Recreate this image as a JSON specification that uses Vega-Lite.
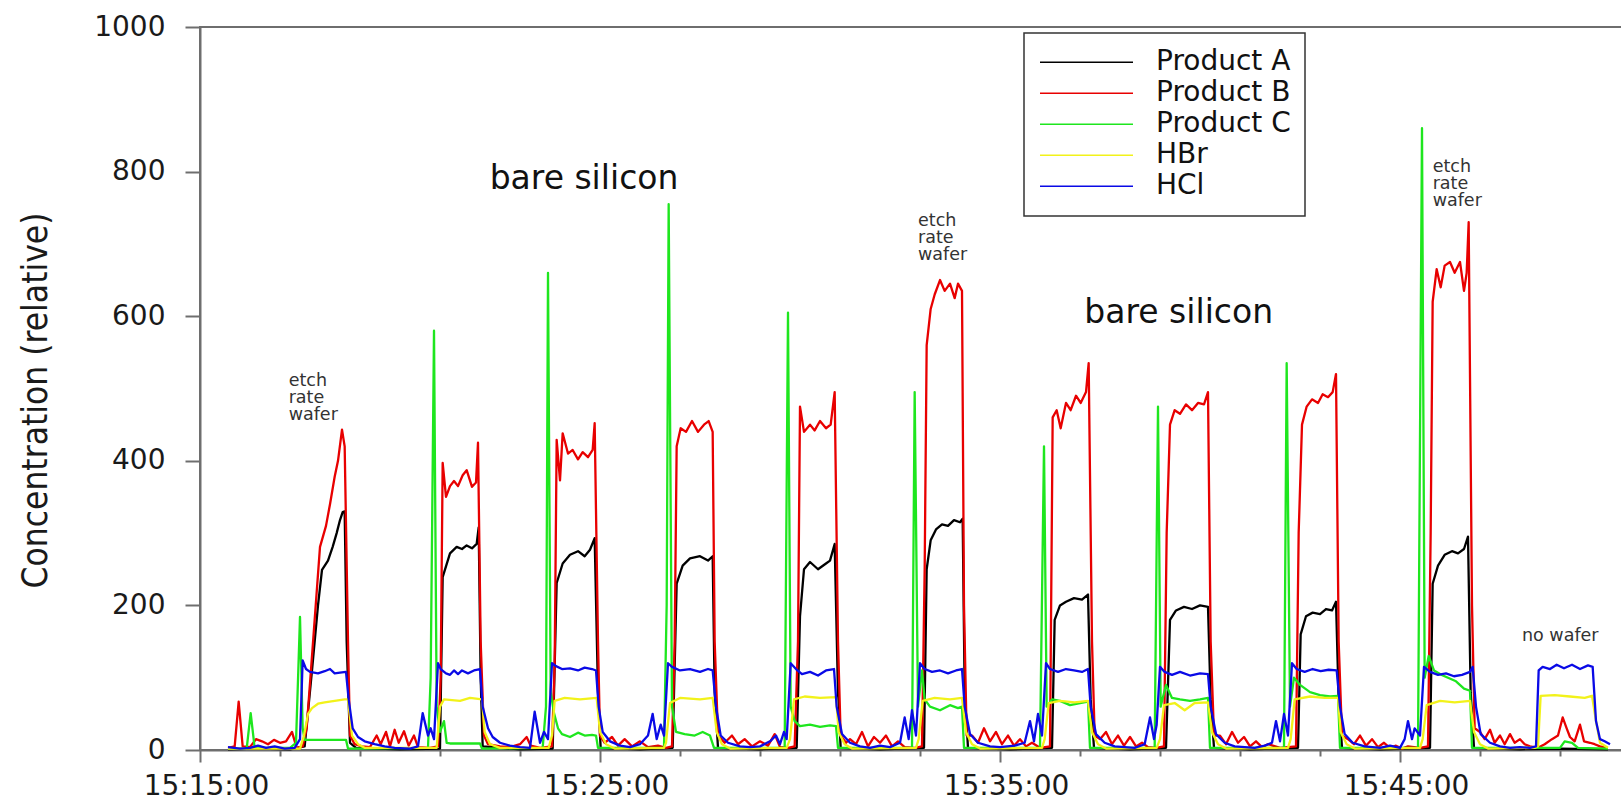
{
  "$schema": "https://vega.github.io/schema/vega-lite/v6.json",
  "width": 1422,
  "height": 723,
  "autosize": "none",
  "padding": {"left": 200, "top": 27, "right": 0, "bottom": 50},
  "background": "white",
  "encoding": {
    "x": {
      "field": "t", "type": "temporal",
      "scale": {"domain": [{"year": 1900, "month": 1, "date": 1, "hours": 15, "minutes": 15, "seconds": 0}, {"year": 1900, "month": 1, "date": 1, "hours": 15, "minutes": 50, "seconds": 33}], "nice": false},
      "axis": {
        "title": null,
        "values": [
          {"year": 1900, "month": 1, "date": 1, "hours": 15, "minutes": 15},
          {"year": 1900, "month": 1, "date": 1, "hours": 15, "minutes": 17},
          {"year": 1900, "month": 1, "date": 1, "hours": 15, "minutes": 19},
          {"year": 1900, "month": 1, "date": 1, "hours": 15, "minutes": 21},
          {"year": 1900, "month": 1, "date": 1, "hours": 15, "minutes": 23},
          {"year": 1900, "month": 1, "date": 1, "hours": 15, "minutes": 25},
          {"year": 1900, "month": 1, "date": 1, "hours": 15, "minutes": 27},
          {"year": 1900, "month": 1, "date": 1, "hours": 15, "minutes": 29},
          {"year": 1900, "month": 1, "date": 1, "hours": 15, "minutes": 31},
          {"year": 1900, "month": 1, "date": 1, "hours": 15, "minutes": 33},
          {"year": 1900, "month": 1, "date": 1, "hours": 15, "minutes": 35},
          {"year": 1900, "month": 1, "date": 1, "hours": 15, "minutes": 37},
          {"year": 1900, "month": 1, "date": 1, "hours": 15, "minutes": 39},
          {"year": 1900, "month": 1, "date": 1, "hours": 15, "minutes": 41},
          {"year": 1900, "month": 1, "date": 1, "hours": 15, "minutes": 43},
          {"year": 1900, "month": 1, "date": 1, "hours": 15, "minutes": 45},
          {"year": 1900, "month": 1, "date": 1, "hours": 15, "minutes": 47},
          {"year": 1900, "month": 1, "date": 1, "hours": 15, "minutes": 49}
        ],
        "labelExpr": "minutes(datum.value) % 10 == 5 ? timeFormat(datum.value, '%H:%M:%S') : ''",
        "tickSize": {"condition": {"test": "minutes(datum.value) % 10 == 5", "value": 12}, "value": 6},
        "labelPadding": 10,
        "labelOffset": 6,
        "labelOverlap": false,
        "labelFlush": false
      }
    },
    "y": {
      "field": "v", "type": "quantitative",
      "scale": {"domain": [0, 1000], "nice": false},
      "axis": {
        "values": [0, 200, 400, 600, 800, 1000],
        "format": "d",
        "title": "Concentration (relative)",
        "titleFont": "DejaVu Sans Condensed, DejaVu Sans, sans-serif",
        "titleFontSize": 35,
        "titleFontWeight": "normal",
        "titleColor": "#1a1a1a",
        "titleX": -165,
        "titleY": 373,
        "titleAngle": -90,
        "titleAlign": "center",
        "titleBaseline": "middle",
        "tickSize": 15,
        "labelPadding": 20
      }
    }
  },
  "layer": [
    {
      "data": {"values": [
        {"t":"15:15:42","v":1},{"t":"15:16:30","v":2},{"t":"15:17:15","v":1},{"t":"15:17:37","v":5},{"t":"15:17:48","v":110},{"t":"15:17:57","v":200},{"t":"15:18:03","v":249},{"t":"15:18:12","v":262},{"t":"15:18:19","v":281},{"t":"15:18:25","v":300},{"t":"15:18:30","v":318},{"t":"15:18:34","v":329},{"t":"15:18:37","v":330},{"t":"15:18:40","v":150},{"t":"15:18:45","v":10},{"t":"15:18:54","v":3},{"t":"15:20:00","v":1},
        {"t":"15:21:00","v":2},{"t":"15:21:04","v":239},{"t":"15:21:15","v":272},{"t":"15:21:25","v":281},{"t":"15:21:33","v":278},{"t":"15:21:40","v":283},{"t":"15:21:48","v":279},{"t":"15:21:55","v":285},{"t":"15:21:58","v":308},{"t":"15:22:01","v":100},{"t":"15:22:04","v":5},
        {"t":"15:23:00","v":1},{"t":"15:23:49","v":2},{"t":"15:23:55","v":231},{"t":"15:24:04","v":258},{"t":"15:24:15","v":270},{"t":"15:24:27","v":275},{"t":"15:24:37","v":268},{"t":"15:24:45","v":277},{"t":"15:24:52","v":293},{"t":"15:24:57","v":80},{"t":"15:25:01","v":3},
        {"t":"15:26:00","v":1},{"t":"15:26:49","v":3},{"t":"15:26:55","v":230},{"t":"15:27:04","v":255},{"t":"15:27:15","v":265},{"t":"15:27:30","v":268},{"t":"15:27:42","v":262},{"t":"15:27:49","v":268},{"t":"15:27:52","v":80},{"t":"15:27:57","v":3},
        {"t":"15:29:00","v":1},{"t":"15:29:55","v":3},{"t":"15:30:00","v":185},{"t":"15:30:06","v":250},{"t":"15:30:15","v":260},{"t":"15:30:27","v":250},{"t":"15:30:39","v":258},{"t":"15:30:45","v":262},{"t":"15:30:52","v":285},{"t":"15:30:57","v":80},{"t":"15:31:01","v":3},
        {"t":"15:32:00","v":1},{"t":"15:33:06","v":3},{"t":"15:33:10","v":250},{"t":"15:33:16","v":290},{"t":"15:33:24","v":305},{"t":"15:33:33","v":312},{"t":"15:33:42","v":310},{"t":"15:33:51","v":318},{"t":"15:34:00","v":315},{"t":"15:34:04","v":320},{"t":"15:34:07","v":80},{"t":"15:34:12","v":3},
        {"t":"15:35:15","v":1},{"t":"15:36:18","v":3},{"t":"15:36:22","v":180},{"t":"15:36:30","v":200},{"t":"15:36:39","v":205},{"t":"15:36:51","v":210},{"t":"15:37:03","v":208},{"t":"15:37:12","v":215},{"t":"15:37:16","v":70},{"t":"15:37:21","v":3},
        {"t":"15:38:15","v":1},{"t":"15:39:09","v":3},{"t":"15:39:15","v":180},{"t":"15:39:24","v":193},{"t":"15:39:36","v":198},{"t":"15:39:48","v":195},{"t":"15:40:00","v":200},{"t":"15:40:12","v":198},{"t":"15:40:16","v":70},{"t":"15:40:21","v":3},
        {"t":"15:41:15","v":1},{"t":"15:42:27","v":3},{"t":"15:42:31","v":160},{"t":"15:42:39","v":185},{"t":"15:42:49","v":190},{"t":"15:43:00","v":188},{"t":"15:43:09","v":195},{"t":"15:43:18","v":193},{"t":"15:43:24","v":205},{"t":"15:43:28","v":70},{"t":"15:43:33","v":3},
        {"t":"15:44:30","v":1},{"t":"15:45:45","v":3},{"t":"15:45:49","v":230},{"t":"15:45:57","v":255},{"t":"15:46:07","v":270},{"t":"15:46:18","v":275},{"t":"15:46:27","v":272},{"t":"15:46:36","v":278},{"t":"15:46:42","v":295},{"t":"15:46:46","v":80},{"t":"15:46:51","v":3},
        {"t":"15:48:00","v":1},{"t":"15:49:00","v":2},{"t":"15:50:12","v":1}
      ], "format": {"parse": {"t": "date:'%H:%M:%S'"}}},
      "mark": {"type": "line", "strokeWidth": 2.3, "strokeJoin": "round"},
      "encoding": {
        "color": {
          "datum": "Product A", "type": "nominal",
          "scale": {"domain": ["Product A", "Product B", "Product C", "HBr", "HCl"], "range": ["#000000", "#e80000", "#1ee61e", "#f2f21a", "#0a0ae6"]},
          "legend": {
            "title": null, "orient": "none", "legendX": 824, "legendY": 6, "direction": "vertical",
            "symbolType": "stroke", "symbolSize": 8649, "symbolStrokeWidth": 1.6,
            "clipHeight": 30.5, "rowPadding": 0, "padding": 14, "symbolOffset": 1, "labelOffset": 22,
            "labelFont": "DejaVu Sans", "labelFontSize": 28, "labelColor": "#111111", "labelLimit": 500,
            "labelExpr": "datum.label + '\u00a0\u00a0\u00a0\u00a0\u00a0'",
            "strokeColor": "#333333", "fillColor": "white"
          }
        }
      }
    },
    {
      "data": {"values": [
        {"t":"15:15:42","v":3},{"t":"15:15:52","v":5},{"t":"15:15:58","v":67},{"t":"15:16:04","v":5},{"t":"15:16:15","v":4},{"t":"15:16:24","v":15},{"t":"15:16:33","v":12},{"t":"15:16:42","v":8},{"t":"15:16:51","v":14},{"t":"15:17:00","v":10},{"t":"15:17:09","v":12},{"t":"15:17:18","v":25},{"t":"15:17:25","v":3},{"t":"15:17:34","v":5},
        {"t":"15:17:40","v":30},{"t":"15:17:48","v":130},{"t":"15:18:00","v":281},{"t":"15:18:09","v":310},{"t":"15:18:15","v":340},{"t":"15:18:22","v":378},{"t":"15:18:27","v":400},{"t":"15:18:33","v":443},{"t":"15:18:37","v":420},{"t":"15:18:42","v":150},{"t":"15:18:45","v":20},{"t":"15:18:52","v":8},{"t":"15:19:03","v":5},{"t":"15:19:15","v":4},{"t":"15:19:25","v":20},{"t":"15:19:31","v":8},{"t":"15:19:39","v":25},{"t":"15:19:45","v":5},{"t":"15:19:52","v":28},{"t":"15:19:58","v":10},{"t":"15:20:06","v":26},{"t":"15:20:13","v":6},{"t":"15:20:21","v":20},{"t":"15:20:27","v":4},{"t":"15:20:45","v":3},
        {"t":"15:20:57","v":5},{"t":"15:21:01","v":100},{"t":"15:21:04","v":397},{"t":"15:21:09","v":350},{"t":"15:21:15","v":365},{"t":"15:21:21","v":372},{"t":"15:21:27","v":365},{"t":"15:21:34","v":380},{"t":"15:21:40","v":387},{"t":"15:21:48","v":364},{"t":"15:21:54","v":370},{"t":"15:21:57","v":425},{"t":"15:22:01","v":150},{"t":"15:22:06","v":20},{"t":"15:22:12","v":8},{"t":"15:22:30","v":5},{"t":"15:22:45","v":4},{"t":"15:23:00","v":8},{"t":"15:23:10","v":18},{"t":"15:23:16","v":6},{"t":"15:23:30","v":3},
        {"t":"15:23:48","v":5},{"t":"15:23:52","v":120},{"t":"15:23:55","v":429},{"t":"15:24:00","v":373},{"t":"15:24:04","v":438},{"t":"15:24:12","v":410},{"t":"15:24:19","v":415},{"t":"15:24:27","v":402},{"t":"15:24:34","v":412},{"t":"15:24:42","v":405},{"t":"15:24:49","v":415},{"t":"15:24:52","v":452},{"t":"15:24:57","v":150},{"t":"15:25:00","v":20},{"t":"15:25:07","v":10},{"t":"15:25:18","v":18},{"t":"15:25:27","v":6},{"t":"15:25:37","v":15},{"t":"15:25:48","v":5},{"t":"15:26:00","v":12},{"t":"15:26:12","v":4},{"t":"15:26:27","v":6},{"t":"15:26:39","v":3},
        {"t":"15:26:48","v":5},{"t":"15:26:52","v":150},{"t":"15:26:55","v":420},{"t":"15:27:01","v":445},{"t":"15:27:09","v":440},{"t":"15:27:18","v":455},{"t":"15:27:27","v":440},{"t":"15:27:36","v":450},{"t":"15:27:43","v":455},{"t":"15:27:49","v":440},{"t":"15:27:52","v":150},{"t":"15:27:57","v":20},{"t":"15:28:07","v":10},{"t":"15:28:18","v":20},{"t":"15:28:27","v":8},{"t":"15:28:37","v":15},{"t":"15:28:48","v":5},{"t":"15:29:00","v":12},{"t":"15:29:12","v":6},{"t":"15:29:22","v":22},{"t":"15:29:30","v":4},{"t":"15:29:42","v":3},
        {"t":"15:29:52","v":5},{"t":"15:29:57","v":150},{"t":"15:30:00","v":475},{"t":"15:30:06","v":440},{"t":"15:30:15","v":450},{"t":"15:30:22","v":442},{"t":"15:30:30","v":455},{"t":"15:30:39","v":445},{"t":"15:30:46","v":450},{"t":"15:30:52","v":495},{"t":"15:30:57","v":150},{"t":"15:31:01","v":20},{"t":"15:31:09","v":10},{"t":"15:31:15","v":15},{"t":"15:31:24","v":8},{"t":"15:31:33","v":25},{"t":"15:31:42","v":5},{"t":"15:31:51","v":18},{"t":"15:32:00","v":10},{"t":"15:32:09","v":20},{"t":"15:32:18","v":5},{"t":"15:32:27","v":12},{"t":"15:32:37","v":4},{"t":"15:32:52","v":3},
        {"t":"15:33:03","v":5},{"t":"15:33:07","v":250},{"t":"15:33:10","v":560},{"t":"15:33:16","v":610},{"t":"15:33:22","v":630},{"t":"15:33:30","v":650},{"t":"15:33:37","v":635},{"t":"15:33:45","v":645},{"t":"15:33:52","v":625},{"t":"15:33:57","v":645},{"t":"15:34:03","v":635},{"t":"15:34:06","v":200},{"t":"15:34:10","v":20},{"t":"15:34:18","v":20},{"t":"15:34:27","v":10},{"t":"15:34:36","v":30},{"t":"15:34:45","v":12},{"t":"15:34:54","v":25},{"t":"15:35:03","v":8},{"t":"15:35:12","v":20},{"t":"15:35:21","v":6},{"t":"15:35:30","v":15},{"t":"15:35:39","v":5},{"t":"15:35:48","v":10},{"t":"15:36:00","v":3},
        {"t":"15:36:15","v":5},{"t":"15:36:19","v":460},{"t":"15:36:25","v":470},{"t":"15:36:31","v":445},{"t":"15:36:39","v":480},{"t":"15:36:46","v":470},{"t":"15:36:54","v":490},{"t":"15:37:01","v":480},{"t":"15:37:09","v":495},{"t":"15:37:13","v":535},{"t":"15:37:18","v":150},{"t":"15:37:22","v":20},{"t":"15:37:30","v":15},{"t":"15:37:39","v":25},{"t":"15:37:48","v":8},{"t":"15:37:57","v":20},{"t":"15:38:06","v":6},{"t":"15:38:15","v":18},{"t":"15:38:24","v":5},{"t":"15:38:33","v":10},{"t":"15:38:42","v":4},{"t":"15:38:54","v":3},
        {"t":"15:39:06","v":5},{"t":"15:39:10","v":300},{"t":"15:39:15","v":450},{"t":"15:39:22","v":470},{"t":"15:39:30","v":465},{"t":"15:39:39","v":478},{"t":"15:39:48","v":470},{"t":"15:39:57","v":480},{"t":"15:40:06","v":478},{"t":"15:40:12","v":495},{"t":"15:40:16","v":150},{"t":"15:40:21","v":20},{"t":"15:40:30","v":20},{"t":"15:40:39","v":8},{"t":"15:40:48","v":25},{"t":"15:40:57","v":10},{"t":"15:41:06","v":18},{"t":"15:41:15","v":5},{"t":"15:41:24","v":12},{"t":"15:41:33","v":4},{"t":"15:41:42","v":8},{"t":"15:42:00","v":3},
        {"t":"15:42:24","v":5},{"t":"15:42:28","v":300},{"t":"15:42:33","v":450},{"t":"15:42:40","v":475},{"t":"15:42:48","v":485},{"t":"15:42:57","v":480},{"t":"15:43:04","v":492},{"t":"15:43:12","v":488},{"t":"15:43:19","v":495},{"t":"15:43:24","v":520},{"t":"15:43:28","v":150},{"t":"15:43:33","v":20},{"t":"15:43:42","v":15},{"t":"15:43:51","v":8},{"t":"15:44:00","v":20},{"t":"15:44:09","v":6},{"t":"15:44:18","v":15},{"t":"15:44:27","v":4},{"t":"15:44:36","v":10},{"t":"15:44:45","v":3},{"t":"15:44:54","v":6},{"t":"15:45:03","v":2},{"t":"15:45:12","v":5},{"t":"15:45:30","v":3},
        {"t":"15:45:42","v":5},{"t":"15:45:46","v":300},{"t":"15:45:49","v":620},{"t":"15:45:55","v":665},{"t":"15:46:01","v":640},{"t":"15:46:07","v":670},{"t":"15:46:15","v":675},{"t":"15:46:22","v":660},{"t":"15:46:30","v":675},{"t":"15:46:36","v":635},{"t":"15:46:40","v":660},{"t":"15:46:43","v":730},{"t":"15:46:48","v":200},{"t":"15:46:52","v":30},{"t":"15:47:00","v":25},{"t":"15:47:07","v":15},{"t":"15:47:15","v":28},{"t":"15:47:22","v":10},{"t":"15:47:30","v":20},{"t":"15:47:37","v":8},{"t":"15:47:45","v":22},{"t":"15:47:52","v":10},{"t":"15:48:00","v":15},{"t":"15:48:07","v":8},{"t":"15:48:15","v":5},{"t":"15:48:27","v":3},
        {"t":"15:48:37","v":8},{"t":"15:48:48","v":15},{"t":"15:48:57","v":20},{"t":"15:49:04","v":45},{"t":"15:49:10","v":30},{"t":"15:49:15","v":18},{"t":"15:49:22","v":12},{"t":"15:49:30","v":35},{"t":"15:49:36","v":12},{"t":"15:49:45","v":10},{"t":"15:49:52","v":8},{"t":"15:50:00","v":5},{"t":"15:50:09","v":3}
      ], "format": {"parse": {"t": "date:'%H:%M:%S'"}}},
      "mark": {"type": "line", "strokeWidth": 2.3, "strokeJoin": "round"},
      "encoding": {"color": {"datum": "Product B", "type": "nominal"}}
    },
    {
      "data": {"values": [
        {"t":"15:15:42","v":2},{"t":"15:16:10","v":2},{"t":"15:16:16","v":51},{"t":"15:16:22","v":3},{"t":"15:17:15","v":3},{"t":"15:17:24","v":10},{"t":"15:17:30","v":184},{"t":"15:17:34","v":30},{"t":"15:17:37","v":14},{"t":"15:18:15","v":14},{"t":"15:18:39","v":14},{"t":"15:18:42","v":2},
        {"t":"15:20:42","v":3},{"t":"15:20:46","v":100},{"t":"15:20:51","v":580},{"t":"15:20:55","v":60},{"t":"15:21:00","v":25},{"t":"15:21:06","v":40},{"t":"15:21:10","v":10},{"t":"15:21:15","v":9},{"t":"15:22:00","v":9},{"t":"15:22:03","v":2},
        {"t":"15:23:34","v":3},{"t":"15:23:39","v":60},{"t":"15:23:42","v":660},{"t":"15:23:46","v":80},{"t":"15:23:51","v":51},{"t":"15:23:57","v":30},{"t":"15:24:03","v":22},{"t":"15:24:15","v":18},{"t":"15:24:27","v":24},{"t":"15:24:37","v":20},{"t":"15:24:48","v":21},{"t":"15:24:54","v":20},{"t":"15:24:57","v":3},
        {"t":"15:26:36","v":3},{"t":"15:26:40","v":200},{"t":"15:26:43","v":755},{"t":"15:26:48","v":60},{"t":"15:26:54","v":25},{"t":"15:27:07","v":22},{"t":"15:27:22","v":20},{"t":"15:27:34","v":25},{"t":"15:27:45","v":20},{"t":"15:27:51","v":3},
        {"t":"15:29:37","v":3},{"t":"15:29:42","v":605},{"t":"15:29:46","v":60},{"t":"15:29:52","v":40},{"t":"15:30:00","v":33},{"t":"15:30:15","v":35},{"t":"15:30:30","v":32},{"t":"15:30:45","v":34},{"t":"15:30:54","v":33},{"t":"15:30:57","v":3},
        {"t":"15:32:48","v":3},{"t":"15:32:52","v":495},{"t":"15:32:57","v":60},{"t":"15:33:03","v":110},{"t":"15:33:07","v":70},{"t":"15:33:15","v":60},{"t":"15:33:30","v":55},{"t":"15:33:45","v":62},{"t":"15:33:57","v":58},{"t":"15:34:03","v":60},{"t":"15:34:06","v":3},
        {"t":"15:36:00","v":3},{"t":"15:36:06","v":420},{"t":"15:36:10","v":60},{"t":"15:36:18","v":70},{"t":"15:36:30","v":68},{"t":"15:36:45","v":62},{"t":"15:37:00","v":65},{"t":"15:37:12","v":67},{"t":"15:37:15","v":3},
        {"t":"15:38:52","v":3},{"t":"15:38:57","v":475},{"t":"15:39:01","v":60},{"t":"15:39:09","v":90},{"t":"15:39:18","v":72},{"t":"15:39:30","v":70},{"t":"15:39:45","v":68},{"t":"15:40:00","v":70},{"t":"15:40:12","v":72},{"t":"15:40:15","v":3},
        {"t":"15:42:06","v":3},{"t":"15:42:10","v":535},{"t":"15:42:15","v":60},{"t":"15:42:21","v":100},{"t":"15:42:30","v":90},{"t":"15:42:45","v":80},{"t":"15:43:00","v":76},{"t":"15:43:15","v":74},{"t":"15:43:27","v":75},{"t":"15:43:30","v":3},
        {"t":"15:45:27","v":3},{"t":"15:45:33","v":860},{"t":"15:45:37","v":100},{"t":"15:45:43","v":130},{"t":"15:45:51","v":110},{"t":"15:46:00","v":105},{"t":"15:46:12","v":100},{"t":"15:46:24","v":95},{"t":"15:46:36","v":85},{"t":"15:46:45","v":82},{"t":"15:46:48","v":3},
        {"t":"15:49:00","v":3},{"t":"15:49:07","v":12},{"t":"15:49:18","v":10},{"t":"15:49:27","v":3},{"t":"15:50:12","v":2}
      ], "format": {"parse": {"t": "date:'%H:%M:%S'"}}},
      "mark": {"type": "line", "strokeWidth": 2.3, "strokeJoin": "round"},
      "encoding": {"color": {"datum": "Product C", "type": "nominal"}}
    },
    {
      "data": {"values": [
        {"t":"15:15:42","v":2},{"t":"15:17:30","v":2},{"t":"15:17:36","v":20},{"t":"15:17:42","v":50},{"t":"15:17:48","v":58},{"t":"15:17:57","v":64},{"t":"15:18:07","v":66},{"t":"15:18:22","v":68},{"t":"15:18:37","v":70},{"t":"15:18:42","v":70},{"t":"15:18:48","v":20},{"t":"15:18:57","v":8},{"t":"15:19:07","v":3},
        {"t":"15:20:55","v":3},{"t":"15:21:00","v":60},{"t":"15:21:06","v":70},{"t":"15:21:30","v":68},{"t":"15:21:45","v":72},{"t":"15:22:03","v":70},{"t":"15:22:07","v":25},{"t":"15:22:15","v":8},{"t":"15:22:30","v":3},
        {"t":"15:23:43","v":3},{"t":"15:23:48","v":20},{"t":"15:23:52","v":68},{"t":"15:24:07","v":72},{"t":"15:24:30","v":70},{"t":"15:24:55","v":72},{"t":"15:25:00","v":25},{"t":"15:25:09","v":8},{"t":"15:25:22","v":2},
        {"t":"15:26:36","v":3},{"t":"15:26:39","v":10},{"t":"15:26:45","v":65},{"t":"15:27:00","v":72},{"t":"15:27:30","v":70},{"t":"15:27:49","v":72},{"t":"15:27:55","v":25},{"t":"15:28:03","v":8},{"t":"15:28:15","v":2},
        {"t":"15:29:40","v":3},{"t":"15:29:45","v":15},{"t":"15:29:51","v":70},{"t":"15:30:07","v":74},{"t":"15:30:30","v":72},{"t":"15:30:54","v":73},{"t":"15:30:58","v":25},{"t":"15:31:07","v":8},{"t":"15:31:18","v":2},
        {"t":"15:32:54","v":3},{"t":"15:32:58","v":15},{"t":"15:33:04","v":68},{"t":"15:33:22","v":72},{"t":"15:33:45","v":70},{"t":"15:34:03","v":72},{"t":"15:34:09","v":25},{"t":"15:34:18","v":8},{"t":"15:34:30","v":2},
        {"t":"15:36:03","v":3},{"t":"15:36:07","v":15},{"t":"15:36:13","v":65},{"t":"15:36:30","v":68},{"t":"15:36:52","v":66},{"t":"15:37:12","v":68},{"t":"15:37:18","v":25},{"t":"15:37:27","v":8},{"t":"15:37:39","v":2},
        {"t":"15:38:55","v":3},{"t":"15:39:00","v":15},{"t":"15:39:06","v":62},{"t":"15:39:22","v":65},{"t":"15:39:37","v":55},{"t":"15:39:52","v":65},{"t":"15:40:12","v":66},{"t":"15:40:18","v":25},{"t":"15:40:27","v":8},{"t":"15:40:39","v":2},
        {"t":"15:42:12","v":3},{"t":"15:42:16","v":15},{"t":"15:42:22","v":70},{"t":"15:42:45","v":74},{"t":"15:43:07","v":72},{"t":"15:43:27","v":72},{"t":"15:43:31","v":25},{"t":"15:43:40","v":8},{"t":"15:43:52","v":2},
        {"t":"15:45:30","v":3},{"t":"15:45:34","v":15},{"t":"15:45:40","v":62},{"t":"15:46:00","v":68},{"t":"15:46:22","v":66},{"t":"15:46:45","v":68},{"t":"15:46:51","v":25},{"t":"15:47:00","v":8},{"t":"15:47:12","v":2},
        {"t":"15:48:22","v":3},{"t":"15:48:27","v":5},{"t":"15:48:31","v":75},{"t":"15:48:52","v":76},{"t":"15:49:15","v":74},{"t":"15:49:37","v":72},{"t":"15:49:48","v":75},{"t":"15:49:54","v":40},{"t":"15:50:00","v":10},{"t":"15:50:12","v":3}
      ], "format": {"parse": {"t": "date:'%H:%M:%S'"}}},
      "mark": {"type": "line", "strokeWidth": 2.3, "strokeJoin": "round"},
      "encoding": {"color": {"datum": "HBr", "type": "nominal"}}
    },
    {
      "data": {"values": [
        {"t":"15:15:42","v":4},{"t":"15:16:00","v":2},{"t":"15:16:15","v":3},{"t":"15:16:27","v":6},{"t":"15:16:39","v":3},{"t":"15:16:52","v":5},{"t":"15:17:07","v":2},{"t":"15:17:22","v":3},{"t":"15:17:30","v":15},{"t":"15:17:34","v":124},{"t":"15:17:39","v":112},{"t":"15:17:45","v":108},{"t":"15:17:57","v":106},{"t":"15:18:07","v":109},{"t":"15:18:15","v":112},{"t":"15:18:22","v":106},{"t":"15:18:30","v":107},{"t":"15:18:39","v":108},{"t":"15:18:43","v":70},{"t":"15:18:49","v":30},{"t":"15:18:57","v":18},{"t":"15:19:07","v":12},{"t":"15:19:22","v":8},{"t":"15:19:37","v":5},{"t":"15:19:52","v":3},{"t":"15:20:15","v":2},{"t":"15:20:27","v":5},{"t":"15:20:34","v":51},{"t":"15:20:42","v":20},{"t":"15:20:46","v":30},{"t":"15:20:51","v":15},
        {"t":"15:20:57","v":120},{"t":"15:21:01","v":112},{"t":"15:21:09","v":106},{"t":"15:21:15","v":104},{"t":"15:21:21","v":110},{"t":"15:21:27","v":105},{"t":"15:21:33","v":110},{"t":"15:21:42","v":106},{"t":"15:21:51","v":110},{"t":"15:22:00","v":112},{"t":"15:22:04","v":60},{"t":"15:22:12","v":30},{"t":"15:22:19","v":18},{"t":"15:22:30","v":10},{"t":"15:22:45","v":6},{"t":"15:23:00","v":4},{"t":"15:23:15","v":3},{"t":"15:23:22","v":53},{"t":"15:23:30","v":10},{"t":"15:23:36","v":25},{"t":"15:23:42","v":15},
        {"t":"15:23:48","v":120},{"t":"15:23:54","v":116},{"t":"15:24:03","v":112},{"t":"15:24:15","v":113},{"t":"15:24:27","v":110},{"t":"15:24:37","v":114},{"t":"15:24:48","v":112},{"t":"15:24:54","v":110},{"t":"15:24:58","v":60},{"t":"15:25:04","v":25},{"t":"15:25:15","v":12},{"t":"15:25:30","v":6},{"t":"15:25:45","v":4},{"t":"15:26:00","v":8},{"t":"15:26:12","v":20},{"t":"15:26:19","v":50},{"t":"15:26:25","v":15},{"t":"15:26:31","v":35},{"t":"15:26:36","v":20},
        {"t":"15:26:42","v":120},{"t":"15:26:48","v":115},{"t":"15:27:00","v":110},{"t":"15:27:15","v":112},{"t":"15:27:30","v":108},{"t":"15:27:42","v":112},{"t":"15:27:49","v":110},{"t":"15:27:54","v":60},{"t":"15:28:01","v":20},{"t":"15:28:12","v":10},{"t":"15:28:30","v":5},{"t":"15:28:45","v":4},{"t":"15:29:00","v":5},{"t":"15:29:15","v":12},{"t":"15:29:24","v":20},{"t":"15:29:30","v":8},{"t":"15:29:36","v":25},{"t":"15:29:40","v":15},
        {"t":"15:29:46","v":120},{"t":"15:29:54","v":112},{"t":"15:30:03","v":105},{"t":"15:30:15","v":108},{"t":"15:30:27","v":103},{"t":"15:30:39","v":110},{"t":"15:30:51","v":112},{"t":"15:30:55","v":60},{"t":"15:31:03","v":22},{"t":"15:31:15","v":10},{"t":"15:31:30","v":5},{"t":"15:31:45","v":3},{"t":"15:32:00","v":6},{"t":"15:32:15","v":4},{"t":"15:32:30","v":10},{"t":"15:32:37","v":45},{"t":"15:32:43","v":15},{"t":"15:32:48","v":55},{"t":"15:32:54","v":20},
        {"t":"15:33:00","v":120},{"t":"15:33:07","v":112},{"t":"15:33:18","v":108},{"t":"15:33:30","v":110},{"t":"15:33:42","v":106},{"t":"15:33:54","v":110},{"t":"15:34:03","v":112},{"t":"15:34:07","v":60},{"t":"15:34:15","v":22},{"t":"15:34:27","v":10},{"t":"15:34:45","v":5},{"t":"15:35:00","v":4},{"t":"15:35:22","v":6},{"t":"15:35:37","v":10},{"t":"15:35:45","v":40},{"t":"15:35:51","v":12},{"t":"15:35:57","v":50},{"t":"15:36:03","v":20},
        {"t":"15:36:09","v":120},{"t":"15:36:15","v":112},{"t":"15:36:27","v":108},{"t":"15:36:39","v":112},{"t":"15:36:51","v":110},{"t":"15:37:03","v":108},{"t":"15:37:12","v":112},{"t":"15:37:16","v":60},{"t":"15:37:24","v":22},{"t":"15:37:37","v":10},{"t":"15:37:52","v":5},{"t":"15:38:07","v":4},{"t":"15:38:22","v":3},{"t":"15:38:37","v":8},{"t":"15:38:45","v":45},{"t":"15:38:51","v":15},{"t":"15:38:55","v":35},
        {"t":"15:39:00","v":115},{"t":"15:39:07","v":108},{"t":"15:39:18","v":104},{"t":"15:39:30","v":108},{"t":"15:39:45","v":103},{"t":"15:40:00","v":106},{"t":"15:40:12","v":105},{"t":"15:40:16","v":60},{"t":"15:40:24","v":22},{"t":"15:40:37","v":10},{"t":"15:40:52","v":5},{"t":"15:41:07","v":4},{"t":"15:41:22","v":3},{"t":"15:41:37","v":6},{"t":"15:41:48","v":10},{"t":"15:41:54","v":40},{"t":"15:42:00","v":12},{"t":"15:42:06","v":50},{"t":"15:42:12","v":20},
        {"t":"15:42:18","v":120},{"t":"15:42:25","v":112},{"t":"15:42:37","v":108},{"t":"15:42:49","v":112},{"t":"15:43:01","v":109},{"t":"15:43:13","v":111},{"t":"15:43:25","v":110},{"t":"15:43:30","v":60},{"t":"15:43:37","v":22},{"t":"15:43:49","v":10},{"t":"15:44:07","v":5},{"t":"15:44:30","v":3},{"t":"15:44:45","v":6},{"t":"15:45:00","v":3},{"t":"15:45:07","v":15},{"t":"15:45:12","v":40},{"t":"15:45:18","v":15},{"t":"15:45:22","v":30},{"t":"15:45:30","v":20},
        {"t":"15:45:36","v":115},{"t":"15:45:45","v":108},{"t":"15:45:57","v":104},{"t":"15:46:09","v":106},{"t":"15:46:21","v":102},{"t":"15:46:33","v":104},{"t":"15:46:45","v":108},{"t":"15:46:49","v":115},{"t":"15:46:54","v":60},{"t":"15:47:01","v":22},{"t":"15:47:15","v":10},{"t":"15:47:30","v":5},{"t":"15:47:45","v":3},{"t":"15:48:00","v":4},{"t":"15:48:15","v":3},{"t":"15:48:24","v":5},
        {"t":"15:48:28","v":110},{"t":"15:48:34","v":115},{"t":"15:48:45","v":112},{"t":"15:48:55","v":118},{"t":"15:49:06","v":113},{"t":"15:49:18","v":118},{"t":"15:49:30","v":112},{"t":"15:49:42","v":117},{"t":"15:49:49","v":115},{"t":"15:49:54","v":40},{"t":"15:50:00","v":15},{"t":"15:50:07","v":12},{"t":"15:50:15","v":8}
      ], "format": {"parse": {"t": "date:'%H:%M:%S'"}}},
      "mark": {"type": "line", "strokeWidth": 2.3, "strokeJoin": "round"},
      "encoding": {"color": {"datum": "HCl", "type": "nominal"}}
    },
    {
      "data": {"values": [
        {"t": "15:24:36", "v": 790, "label": "bare silicon"},
        {"t": "15:39:28", "v": 604, "label": "bare silicon"}
      ], "format": {"parse": {"t": "date:'%H:%M:%S'"}}},
      "mark": {"type": "text", "font": "DejaVu Sans", "fontSize": 33, "align": "center", "baseline": "middle", "color": "#111111"},
      "encoding": {"text": {"field": "label"}}
    },
    {
      "data": {"values": [
        {"t": "15:17:13", "v": 523, "label": "etch\nrate\nwafer"},
        {"t": "15:32:57", "v": 744, "label": "etch\nrate\nwafer"},
        {"t": "15:45:49", "v": 819, "label": "etch\nrate\nwafer"},
        {"t": "15:48:03", "v": 170, "label": "no wafer"}
      ], "format": {"parse": {"t": "date:'%H:%M:%S'"}}},
      "mark": {"type": "text", "font": "DejaVu Sans", "fontSize": 17.5, "lineHeight": 17, "lineBreak": "\n", "align": "left", "baseline": "top", "color": "#333333"},
      "encoding": {"text": {"field": "label"}}
    }
  ],
  "config": {
    "view": {"stroke": "#6e6e6e", "strokeWidth": 2},
    "font": "DejaVu Sans",
    "axis": {
      "domainColor": "#6e6e6e", "domainWidth": 2,
      "tickColor": "#6e6e6e", "tickWidth": 2,
      "labelFont": "DejaVu Sans", "labelFontSize": 28, "labelColor": "#1a1a1a",
      "grid": false
    },
    "legend": {"strokeWidth": 1.5}
  }
}
